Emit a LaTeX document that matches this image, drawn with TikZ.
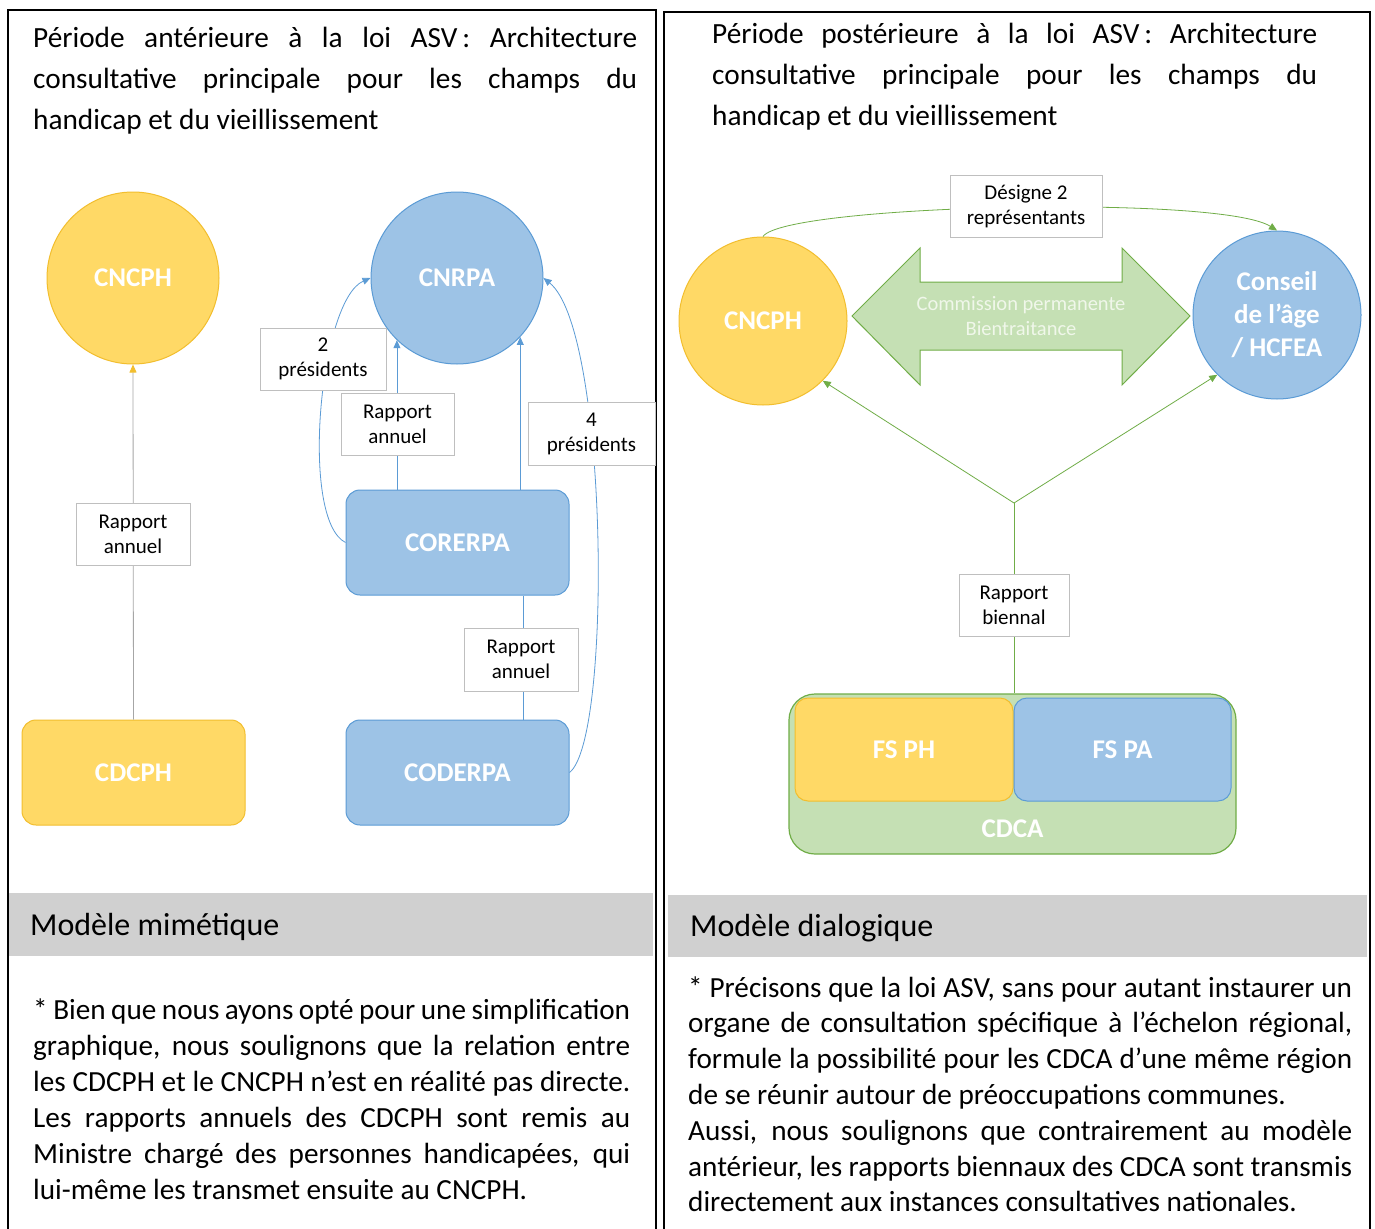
\documentclass[tikz,border=0pt]{standalone}
\usepackage{fontspec}
\setmainfont{Carlito}
\usetikzlibrary{arrows.meta,calc}
\definecolor{yfill}{HTML}{FFD966}
\definecolor{ydraw}{HTML}{F2BE2E}
\definecolor{bfill}{HTML}{9DC3E6}
\definecolor{bdraw}{HTML}{5B9BD5}
\definecolor{gfill}{HTML}{C5E0B4}
\definecolor{gdraw}{HTML}{70AD47}
\definecolor{lbox}{HTML}{BFBFBF}
\definecolor{band}{HTML}{D0D0D0}
\definecolor{conn}{HTML}{A6A6A6}
\definecolor{ctext}{HTML}{F0F7EA}
\newcommand{\bnfont}{\fontsize{27}{33}\selectfont\bfseries}
\newcommand{\labfont}{\fontsize{21}{25}\selectfont}
\newcommand{\ttlfont}{\fontsize{29.3}{41}\selectfont}
\newcommand{\headfont}{\fontsize{32}{36}\selectfont}
\newcommand{\bodyfontA}{\fontsize{29.2}{36}\selectfont}
\newcommand{\bodyfontB}{\fontsize{29.2}{35.8}\selectfont}
\newcommand{\rs}{\spaceskip=0pt\relax\xspaceskip=0pt\relax}
\newcommand{\fl}[2]{\makebox[#1][s]{\rs #2}}
\begin{document}
\begin{tikzpicture}[x=1pt,y=-1pt,
  ycirc/.style={circle, draw=ydraw, fill=yfill, line width=1pt, minimum size=#1, inner sep=0pt, text=white, font=\bnfont, align=center},
  bcirc/.style={circle, draw=bdraw, fill=bfill, line width=1pt, minimum size=#1, inner sep=0pt, text=white, font=\bnfont, align=center},
  ybox/.style={rectangle, rounded corners=14pt, draw=ydraw, fill=yfill, line width=1pt, minimum width=223pt, minimum height=105pt, text=white, font=\bnfont},
  bbox/.style={rectangle, rounded corners=14pt, draw=bdraw, fill=bfill, line width=1pt, minimum width=223pt, minimum height=105pt, text=white, font=\bnfont},
  lab/.style={rectangle, draw=lbox, fill=white, line width=0.8pt, font=\labfont, align=center, inner sep=0pt},
  tip/.style={-{Triangle[length=8pt,width=7pt]}},
  barr/.style={draw=bdraw, line width=0.8pt, tip},
  bline/.style={draw=bdraw, line width=0.8pt},
  garr/.style={draw=gdraw, line width=0.8pt, tip},
  gline/.style={draw=gdraw, line width=0.8pt},
  txt/.style={anchor=base west, inner sep=0pt, align=left},
]
\path[use as bounding box] (0,0) rectangle (1375,1228);
\clip (0,0) rectangle (1375,1228);
\fill[white] (0,0) rectangle (1375,1228);

% gray bands
\fill[band] (8,893) rectangle (653,956);
\fill[band] (668,895) rectangle (1367,957);

% frames
\draw[line width=1.6pt] (8,1240) -- (8,10) -- (656,10) -- (656,1240);
\draw[line width=1.6pt] (664,1240) -- (664,12) -- (1370,12) -- (1370,1240);

% ---------- left diagram ----------
\node[ycirc=172pt] (cncph) at (133,278) {CNCPH};
\node[bcirc=172pt] (cnrpa) at (457,278) {CNRPA};
\node[ybox] (cdcph) at (133.5,772.5) {CDCPH};
\node[bbox] (corerpa) at (457.5,542.5) {CORERPA};
\node[bbox] (coderpa) at (457.5,772.5) {CODERPA};

\coordinate (x3) at (523,0);
\draw[draw=conn, line width=0.8pt, -{Triangle[length=8pt,width=7pt,color=ydraw]}] (cdcph.north) -- (cncph.south);
\draw[barr] (corerpa.west) .. controls +(-46,-23) and +(-51,22) .. (cnrpa.west);
\draw[barr] (coderpa.east) .. controls +(43,-33) and +(65,52) .. (cnrpa.east);
\draw[barr] (corerpa.north -| cnrpa.226) -- (cnrpa.226);
\draw[barr] (corerpa.north -| cnrpa.317) -- (cnrpa.317);
\draw[bline] (coderpa.north -| x3) -- (corerpa.south -| x3);

\node[lab, minimum width=114pt, minimum height=62pt] (la1) at (133,534) {Rapport\\annuel};
\node[lab, minimum width=126pt, minimum height=62pt] (lp2) at (323,359) {2\\présidents};
\node[lab, minimum width=113pt, minimum height=62pt] (la2) at (397.5,424) {Rapport\\annuel};
\node[lab, minimum width=127pt, minimum height=63pt] (lp4) at (591.5,433.5) {4\\présidents};
\node[lab, minimum width=114pt, minimum height=63pt] (la3) at (521,659.5) {Rapport\\annuel};

% ---------- right diagram ----------
\node[ycirc=168pt] (cncph2) at (763,321) {CNCPH};
\node[bcirc=168pt] (conseil) at (1277,315) {\rs Conseil\\de l’âge\\/ HCFEA};
\filldraw[fill=gfill, draw=gdraw, line width=1pt] (852,316) -- (920,248) -- (920,282) -- (1122,282) -- (1122,248) -- (1190,316) -- (1122,385) -- (1122,350) -- (920,350) -- (920,385) -- cycle;
\node[font=\fontsize{20.5}{25}\selectfont, text=ctext, align=center] (comm) at (1021,316) {\rs Commission permanente\\Bientraitance};

\node[rectangle, rounded corners=26pt, draw=gdraw, fill=gfill, line width=1.2pt, minimum width=447pt, minimum height=160pt] (cdca) at (1012.5,774) {};
\node[rectangle, rounded corners=13pt, draw=ydraw, fill=yfill, line width=1pt, minimum width=218pt, minimum height=103pt, text=white, font=\bnfont] (fsph) at (904,749.5) {FS PH};
\node[rectangle, rounded corners=13pt, draw=bdraw, fill=bfill, line width=1pt, minimum width=217pt, minimum height=103pt, text=white, font=\bnfont] (fspa) at (1122.5,749.5) {FS PA};
\node[text=white, font=\bnfont] (cdcatext) at ($(cdca.south)+(0,-26)$) {CDCA};

\coordinate (j) at (1014,503);
\draw[garr] (j) -- (cncph2.-45);
\draw[garr] (j) -- (conseil.225);
\draw[gline] (j) -- (j |- cdca.north);
\draw[garr] (cncph2.north) .. controls +(22,-32) and +(-57,-36) .. (conseil.north);

\node[lab, minimum width=152pt, minimum height=62pt] (des) at (1026,206) {\rs Désigne 2\\représentants};
\node[lab, minimum width=110pt, minimum height=62pt] (rb) at (1014,605) {Rapport\\biennal};

% ---------- texts ----------
\node[txt, text width=604pt, font=\ttlfont] (t1) at (33,48) {\rs\fl{604pt}{Période antérieure à la loi ASV\,: Architecture}\\\fl{604pt}{consultative principale pour les champs du}\\handicap et du vieillissement};
\node[txt, text width=605pt, font=\ttlfont] (t2) at (712,44) {\rs\fl{605pt}{Période postérieure à la loi ASV\,: Architecture}\\\fl{605pt}{consultative principale pour les champs du}\\handicap et du vieillissement};

\node[txt, font=\headfont] (h1) at (30,935) {\rs Modèle mimétique};
\node[txt, font=\headfont] (h2) at (690,936) {\rs Modèle dialogique};

\node[txt, text width=597pt, font=\bodyfontA] (b1) at (33,1019) {\rs\fl{597pt}{* Bien que nous ayons opté pour une simplification}\\\fl{597pt}{graphique, nous soulignons que la relation entre}\\\fl{597pt}{les CDCPH et le CNCPH n’est en réalité pas directe.}\\\fl{597pt}{Les rapports annuels des CDCPH sont remis au}\\\fl{597pt}{Ministre chargé des personnes handicapées, qui}\\lui-même les transmet ensuite au CNCPH.};
\node[txt, text width=664pt, font=\bodyfontB] (b2) at (688,997) {\rs\fl{664pt}{* Précisons que la loi ASV, sans pour autant instaurer un}\\\fl{664pt}{organe de consultation spécifique à l’échelon régional,}\\\fl{664pt}{formule la possibilité pour les CDCA d’une même région}\\de se réunir autour de préoccupations communes.\\\fl{664pt}{Aussi, nous soulignons que contrairement au modèle}\\\fl{664pt}{antérieur, les rapports biennaux des CDCA sont transmis}\\directement aux instances consultatives nationales.};
\end{tikzpicture}
\end{document}
